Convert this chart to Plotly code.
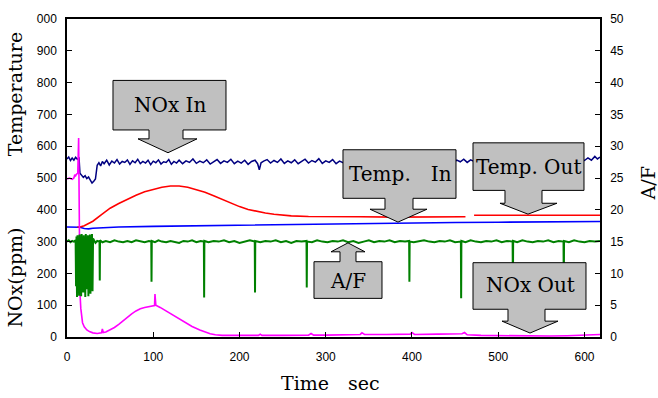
import plotly.graph_objects as go

# ---------------- data ----------------
x_ticks = [0, 100, 200, 300, 400, 500, 600]
left_tick_vals = [0, 100, 200, 300, 400, 500, 600, 700, 800, 900, 1000]
left_tick_text = ["0", "100", "200", "300", "400", "500", "600", "700", "800", "900", "000"]
right_tick_vals = [0, 5, 10, 15, 20, 25, 30, 35, 40, 45, 50]

# NOx In (ppm, left axis)
navy_time = [0, 2, 4, 6, 8, 10, 12, 14, 15, 17, 19, 21, 23, 25, 27, 29, 31, 33, 35, 37, 39, 41, 43,
             46, 49, 52, 55, 58, 61, 64, 67, 70, 73, 76, 79, 82, 85, 88, 91, 94, 97, 100, 103, 106,
             109, 112, 115, 118, 121, 124, 127, 130, 134, 138, 142, 146, 150, 154, 158, 162, 166,
             170, 174, 178, 182, 186, 190, 194, 198, 202, 206, 210, 214, 218, 221, 223, 225, 228,
             232, 236, 240, 244, 248, 252, 256, 260, 264, 268, 272, 276, 280, 284, 288, 292, 296,
             300, 304, 308, 312, 316, 320, 324, 328, 332, 336, 340, 344, 348, 352, 356, 360, 364,
             368, 372, 376, 380, 384, 388, 392, 396, 400, 404, 408, 412, 416, 420, 424, 428, 432,
             436, 440, 444, 448, 452, 456, 460, 464, 468, 472, 476, 480, 484, 488, 492, 496, 500,
             504, 508, 512, 516, 520, 524, 528, 532, 536, 540, 544, 548, 552, 556, 560, 564, 568,
             572, 576, 580, 584, 588, 592, 596, 600, 604, 608, 612, 615, 618]
navy_value = [560, 566, 555, 563, 556, 565, 559, 562, 515, 508, 502, 507, 498, 503, 494, 484, 490, 497,
              540, 548, 538, 552, 545, 556, 541, 553, 547, 558, 544, 552, 549, 557, 543, 554, 548, 559,
              545, 552, 547, 556, 542, 553, 548, 557, 544, 551, 549, 558, 543, 552, 547, 556, 545, 554,
              549, 560, 546, 553, 548, 557, 544, 552, 558, 546, 554, 549, 559, 545, 553, 547, 556, 543,
              552, 556, 545, 526, 548, 553, 558, 547, 555, 549, 560, 546, 554, 548, 557, 545, 553, 559,
              547, 555, 550, 561, 546, 554, 549, 558, 545, 553, 548, 557, 550, 560, 547, 555, 549, 558,
              546, 554, 550, 559, 548, 556, 551, 561, 547, 555, 550, 559, 546, 554, 549, 560, 548, 556,
              551, 558, 547, 555, 550, 561, 548, 556, 551, 559, 549, 557, 552, 560, 548, 556, 551, 559,
              547, 555, 550, 560, 548, 556, 551, 559, 549, 557, 552, 561, 549, 557, 551, 559, 548, 556,
              552, 560, 549, 557, 553, 562, 551, 559, 555, 563, 556, 568, 560, 566]

# Temp. Out (red, left axis)
red_time = [12, 15, 20, 25, 30, 40, 50, 60, 70, 80, 90, 100, 110, 120, 125, 130, 140, 150, 160, 170,
            180, 190, 200, 210, 220, 230, 240, 250, 260, 280, 300, 340, 380, 420, 462, 466, 472,
            500, 540, 580, 618]
red_value = [346, 346, 350, 357, 364, 385, 405, 420, 434, 446, 457, 465, 471, 475, 476, 475, 471, 464,
             455, 444, 432, 420, 410, 401, 395, 390, 386, 383, 381, 379, 378, 378, 377, 378, 378, None,
             383, 383, 384, 384, 383]

# Temp. In (blue, left axis)
blue_time = [0, 10, 15, 20, 25, 30, 40, 60, 100, 150, 200, 250, 300, 350, 400, 450, 500, 550, 600, 618]
blue_value = [346, 346, 345, 341, 340, 342, 344, 346, 348, 350, 352, 354, 356, 357, 359, 360, 361, 362,
              363, 363]

# NOx Out (magenta, left axis)
mag_time = [0, 3, 6, 8, 9, 10, 11, 12.5, 13.5, 14, 14.5, 15, 16, 17, 18, 20, 23, 26, 30, 35, 40, 41,
            42, 45, 50, 55, 60, 65, 70, 75, 80, 85, 90, 95, 100, 101.5, 102, 103, 108, 113, 119, 125,
            130, 137, 145, 154, 160, 166, 172, 180, 200, 222, 224, 226, 250, 280, 283, 286, 300, 320,
            340, 342, 345, 370, 398, 400, 403, 430, 458, 461, 464, 480, 500, 540, 560, 580, 600, 610,
            618]
mag_value = [497, 500, 496, 500, 510, 507, 512, 515, 626, 430, 250, 140, 90, 60, 45, 32, 22, 17, 13, 11,
             13, 25, 14, 16, 22, 30, 40, 52, 63, 73, 82, 89, 93, 96, 97, 99, 135, 100, 93, 85, 76, 65,
             56, 45, 33, 22, 15, 10, 7, 5, 5, 5, 9, 5, 5, 6, 11, 6, 6, 7, 8, 13, 8, 8, 9, 14, 8, 9, 10,
             14, 7, 5, 4, 3, 3, 4, 5, 6, 8]

# A/F (green, right axis)
green_time = [0, 2, 4, 6, 8, 10, 10.5, 11, 11.6, 12.2, 12.8, 13.4, 14, 14.6, 15.2, 15.8, 16.4, 17,
              17.6, 18.2, 18.8, 19.4, 20, 20.6, 21.2, 21.8, 22.4, 23, 23.6, 24.2, 24.8, 25.4, 26,
              26.6, 27.2, 27.8, 28.4, 29, 29.6, 30.2, 31, 33, 35, 37.7, 38, 38.3, 41, 45, 50, 55, 60,
              65, 70, 75, 80, 85, 90, 95, 97.7, 98, 98.3, 102, 106, 110, 115, 120, 125, 130, 135,
              140, 145, 150, 155, 158.7, 159, 159.3, 164, 170, 176, 182, 188, 194, 200, 206, 212,
              217.7, 218, 218.3, 224, 230, 236, 242, 248, 254, 260, 266, 272, 277.7, 278, 278.3, 284,
              290, 296, 302, 308, 314, 320, 326, 332, 338, 344, 350, 356, 362, 368, 374, 380, 386,
              392, 396.7, 397, 397.3, 402, 408, 414, 420, 426, 432, 438, 444, 450, 456.7, 457, 457.3,
              462, 468, 474, 480, 486, 492, 498, 504, 510, 516.7, 517, 517.3, 522, 528, 534, 540,
              546, 552, 558, 564, 570, 575.7, 576, 576.3, 582, 588, 594, 600, 606, 612, 618]
green_value = [15.0, 15.2, 14.9, 15.1, 15.0, 15.2, 8.0, 15.8, 6.3, 16.0, 7.5, 15.5, 6.5, 16.1, 8.5,
               15.6, 6.4, 16.2, 9.0, 15.4, 7.0, 16.0, 8.0, 15.7, 6.3, 16.2, 7.5, 15.5, 9.5, 16.0, 6.4,
               15.8, 8.5, 16.1, 6.8, 15.6, 9.0, 16.2, 7.2, 15.5, 15.3, 14.8, 15.1, 15.0, 8.9, 15.2,
               14.9, 15.1, 14.9, 15.2, 15.0, 14.9, 15.1, 14.9, 15.2, 15.0, 14.9, 15.1, 15.0, 8.7, 15.1,
               14.9, 15.2, 15.0, 14.9, 15.1, 15.0, 14.8, 15.1, 15.0, 15.2, 14.9, 15.1, 15.0, 6.2, 15.1,
               14.9, 15.1, 15.0, 15.2, 14.9, 15.1, 14.8, 15.0, 15.2, 15.0, 7.0, 15.1, 14.9, 15.1, 15.0,
               15.2, 14.9, 15.1, 14.8, 15.1, 15.0, 15.1, 7.8, 15.0, 14.9, 15.2, 15.0, 14.9, 15.1, 15.0,
               15.2, 14.9, 15.1, 14.8, 15.0, 15.2, 14.9, 15.1, 15.0, 15.2, 14.9, 15.1, 15.0, 15.1, 8.7,
               15.0, 14.9, 15.1, 15.2, 15.0, 14.9, 15.1, 15.0, 15.2, 14.9, 15.0, 6.1, 15.1, 14.9, 15.2,
               15.0, 14.9, 15.1, 15.0, 15.2, 14.9, 15.1, 15.0, 7.0, 15.1, 14.9, 15.2, 15.0, 14.9, 15.1,
               15.0, 15.2, 14.9, 15.1, 15.0, 7.0, 15.1, 14.9, 15.2, 15.0, 14.9, 15.1, 15.0, 15.1]

callout_labels = ["NOx In", "Temp.\u3000In", "Temp. Out", "A/F", "NOx Out"]

# ---------------- layout geometry ----------------
W, H = 658, 398
L, R, T, B = 67, 58, 16, 61
PW, PH = W - L - R, H - T - B


def px(x):
    return (x - L) / PW


def py(y):
    return (H - B - y) / PH


def P(x, y):
    return f"{px(x):.5f},{py(y):.5f}"


def down_callout(bx0, by0, bx1, by1, sx0, sx1, sy, hx0, hx1, tx, ty):
    pts = [(bx0, by0), (bx1, by0), (bx1, by1), (sx1, by1), (sx1, sy), (hx1, sy), (tx, ty),
           (hx0, sy), (sx0, sy), (sx0, by1), (bx0, by1)]
    return "M " + " L ".join(P(a, b) for a, b in pts) + " Z"


def up_callout(tx, ty, hx0, hx1, hy, sx0, sx1, bx0, by0, bx1, by1):
    pts = [(tx, ty), (hx1, hy), (sx1, hy), (sx1, by0), (bx1, by0), (bx1, by1), (bx0, by1),
           (bx0, by0), (sx0, by0), (sx0, hy), (hx0, hy)]
    return "M " + " L ".join(P(a, b) for a, b in pts) + " Z"


fig = go.Figure()
fig.add_trace(go.Scatter(x=blue_time, y=blue_value, mode="lines",
                         line=dict(color="#0000ff", width=1.6), showlegend=False))
fig.add_trace(go.Scatter(x=red_time, y=red_value, mode="lines",
                         line=dict(color="#ff0000", width=1.6), showlegend=False, connectgaps=False))
fig.add_trace(go.Scatter(x=green_time, y=green_value, mode="lines", yaxis="y2",
                         line=dict(color="#008000", width=2), showlegend=False))
fig.add_trace(go.Scatter(x=navy_time, y=navy_value, mode="lines",
                         line=dict(color="#000080", width=1.5), showlegend=False))
fig.add_trace(go.Scatter(x=mag_time, y=mag_value, mode="lines",
                         line=dict(color="#ff00ff", width=1.6), showlegend=False))

shape_style = dict(type="path", xref="paper", yref="paper", layer="above",
                   fillcolor="#c0c0c0", line=dict(color="black", width=1))
shapes = [
    dict(path=down_callout(113, 78, 226, 128, 149, 183, 137, 138, 197, 168, 151), **shape_style),
    dict(path=down_callout(343, 148, 456, 197, 385, 413, 208, 370, 427, 398, 221), **shape_style),
    dict(path=down_callout(473, 141, 584, 189, 505, 542, 202, 500, 557, 528, 213), **shape_style),
    dict(path=up_callout(348, 242, 331, 365, 251, 340, 356, 314, 261, 382, 298), **shape_style),
    dict(path=down_callout(473, 262, 586, 309, 508, 545, 321, 502, 558, 530, 333), **shape_style),
]

serif = "DejaVu Serif"
label_pos = [(170, 103), (400, 172), (528, 165), (348, 280), (530, 285)]
annotations = []
for (cx, cy), txt in zip(label_pos, callout_labels):
    annotations.append(dict(x=px(cx), y=py(cy), xref="paper", yref="paper", text=txt,
                            showarrow=False, xanchor="center", yanchor="middle",
                            font=dict(family=serif, size=20, color="black")))

annotations += [
    dict(x=px(15), y=py(92), xref="paper", yref="paper", text="Temperature", textangle=-90,
         showarrow=False, xanchor="center", yanchor="middle",
         font=dict(family=serif, size=19, color="black")),
    dict(x=px(15), y=py(277), xref="paper", yref="paper", text="NOx(ppm)", textangle=-90,
         showarrow=False, xanchor="center", yanchor="middle",
         font=dict(family=serif, size=19, color="black")),
    dict(x=px(648), y=py(182), xref="paper", yref="paper", text="A/F", textangle=-90,
         showarrow=False, xanchor="center", yanchor="middle",
         font=dict(family=serif, size=19, color="black")),
    dict(x=px(330), y=py(383), xref="paper", yref="paper", text="Time\u3000sec",
         showarrow=False, xanchor="center", yanchor="middle",
         font=dict(family=serif, size=19, color="black")),
]

tickfont = dict(family="Liberation Sans", size=12, color="black")
fig.update_layout(
    width=W, height=H, autosize=False,
    margin=dict(l=L, r=R, t=T, b=B, pad=0),
    paper_bgcolor="white", plot_bgcolor="white",
    showlegend=False,
    xaxis=dict(range=[0, 618], tickvals=x_ticks, ticks="inside", ticklen=5, tickcolor="black",
               showline=True, linecolor="black", linewidth=1.5, mirror=True, showgrid=False,
               zeroline=False, tickfont=tickfont, ticklabelstandoff=8),
    yaxis=dict(range=[0, 1000], tickvals=left_tick_vals, ticktext=left_tick_text, ticks="inside",
               ticklen=5, tickcolor="black", showline=True, linecolor="black", linewidth=1.5,
               showgrid=False, zeroline=False, tickfont=tickfont, ticklabelstandoff=6),
    yaxis2=dict(range=[0, 50], tickvals=right_tick_vals, overlaying="y", side="right",
                ticks="inside", ticklen=5, tickcolor="black", showline=True, linecolor="black",
                linewidth=1.5, showgrid=False, zeroline=False, tickfont=tickfont,
                ticklabelstandoff=6),
    shapes=shapes,
    annotations=annotations,
)

fig.write_html("out.html")
